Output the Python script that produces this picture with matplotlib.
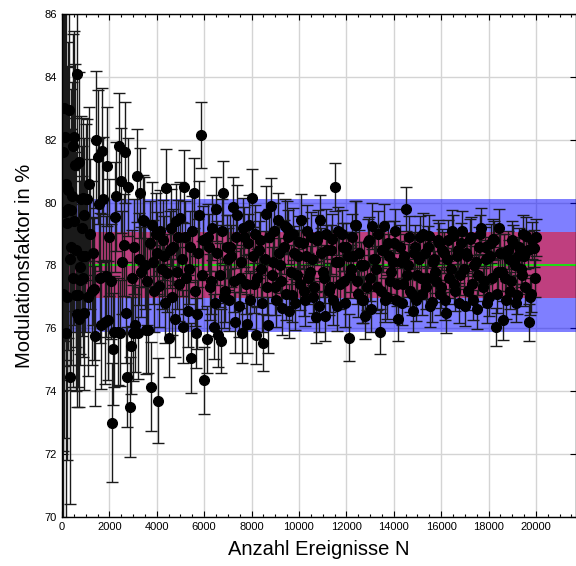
import matplotlib.pyplot as plt
from matplotlib.ticker import MultipleLocator

plt.rcParams['font.family'] = ['Liberation Sans', 'DejaVu Sans']

# number of events N
n_events = [
    25, 50, 75, 100, 125, 150, 175, 200, 225, 250,
    275, 300, 325, 350, 375, 400, 425, 450, 475, 500,
    525, 550, 575, 600, 625, 650, 675, 700, 725, 750,
    775, 800, 825, 850, 875, 900, 925, 950, 975, 1000,
    1050, 1100, 1150, 1200, 1250, 1300, 1350, 1400, 1450, 1500,
    1550, 1600, 1650, 1700, 1750, 1800, 1850, 1900, 1950, 2000,
    2050, 2100, 2150, 2200, 2250, 2300, 2350, 2400, 2450, 2500,
    2550, 2600, 2650, 2700, 2750, 2800, 2850, 2900, 2950, 3000,
    3050, 3100, 3150, 3200, 3250, 3300, 3350, 3400, 3450, 3500,
    3550, 3600, 3650, 3700, 3750, 3800, 3850, 3900, 3950, 4000,
    4050, 4100, 4150, 4200, 4250, 4300, 4350, 4400, 4450, 4500,
    4550, 4600, 4650, 4700, 4750, 4800, 4850, 4900, 4950, 5000,
    5050, 5100, 5150, 5200, 5250, 5300, 5350, 5400, 5450, 5500,
    5550, 5600, 5650, 5700, 5750, 5800, 5850, 5900, 5950, 6000,
    6100, 6200, 6300, 6400, 6500, 6600, 6700, 6800, 6900, 7000,
    7100, 7200, 7300, 7400, 7500, 7600, 7700, 7800, 7900, 8000,
    8100, 8200, 8300, 8400, 8500, 8600, 8700, 8800, 8900, 9000,
    9100, 9200, 9300, 9400, 9500, 9600, 9700, 9800, 9900, 10000,
    10100, 10200, 10300, 10400, 10500, 10600, 10700, 10800, 10900, 11000,
    11100, 11200, 11300, 11400, 11500, 11600, 11700, 11800, 11900, 12000,
    12100, 12200, 12300, 12400, 12500, 12600, 12700, 12800, 12900, 13000,
    13100, 13200, 13300, 13400, 13500, 13600, 13700, 13800, 13900, 14000,
    14100, 14200, 14300, 14400, 14500, 14600, 14700, 14800, 14900, 15000,
    15100, 15200, 15300, 15400, 15500, 15600, 15700, 15800, 15900, 16000,
    16100, 16200, 16300, 16400, 16500, 16600, 16700, 16800, 16900, 17000,
    17100, 17200, 17300, 17400, 17500, 17600, 17700, 17800, 17900, 18000,
    18100, 18200, 18300, 18400, 18500, 18600, 18700, 18800, 18900, 19000,
    19100, 19200, 19300, 19400, 19500, 19600, 19700, 19800, 19900, 20000,
    6150, 6250, 6350, 6450, 6550, 6650, 6750, 6850, 6950, 7050,
    7150, 7250, 7350, 7450, 7550, 7650, 7750, 7850, 7950, 8050,
    8150, 8250, 8350, 8450, 8550, 8650, 8750, 8850, 8950, 9050,
    9150, 9250, 9350, 9450, 9550, 9650, 9750, 9850, 9950, 10050,
    10150, 10250, 10350, 10450, 10550, 10650, 10750, 10850, 10950, 11050,
    11150, 11250, 11350, 11450, 11550, 11650, 11750, 11850, 11950, 12050,
    12150, 12250, 12350, 12450, 12550, 12650, 12750, 12850, 12950, 13050,
    13150, 13250, 13350, 13450, 13550, 13650, 13750, 13850, 13950, 14050,
    14150, 14250, 14350, 14450, 14550, 14650, 14750, 14850, 14950, 15050,
    15150, 15250, 15350, 15450, 15550, 15650, 15750, 15850, 15950, 16050,
    16150, 16250, 16350, 16450, 16550, 16650, 16750, 16850, 16950, 17050,
    17150, 17250, 17350, 17450, 17550, 17650, 17750, 17850, 17950, 18050,
    18150, 18250, 18350, 18450, 18550, 18650, 18750, 18850, 18950, 19050,
    19150, 19250, 19350, 19450, 19550, 19650, 19750, 19850, 19950,
]

# modulation factor in %
modulation = [
    77.10, 81.60, 83.00, 79.70, 82.10, 75.85, 80.60, 77.00, 79.35, 80.40,
    79.80, 82.95, 78.20, 74.45, 79.75, 78.60, 80.20, 81.80, 77.60, 82.10,
    79.40, 81.20, 78.50, 77.05, 84.10, 76.45, 77.05, 81.30, 76.30, 77.95,
    77.55, 80.10, 79.20, 78.30, 80.15, 77.60, 79.60, 76.50, 78.30, 80.10,
    80.10, 77.00, 80.60, 79.00, 77.20, 78.40, 77.25, 75.75, 82.00, 81.45,
    79.95, 77.60, 76.10, 81.65, 80.10, 76.20, 77.65, 81.15, 76.25, 78.90,
    77.50, 73.00, 75.35, 75.90, 79.55, 80.20, 75.90, 81.80, 75.85, 80.70,
    78.10, 78.65, 81.60, 76.50, 74.45, 80.50, 73.50, 75.45, 77.60, 75.85,
    78.60, 76.10, 80.85, 75.85, 78.20, 80.30, 77.80, 79.45, 79.40, 78.00,
    75.95, 77.50, 75.95, 78.70, 74.15, 79.30, 78.10, 77.20, 79.00, 78.40,
    73.70, 77.35, 79.10, 77.90, 78.80, 78.30, 76.80, 80.45, 77.75, 75.70,
    78.50, 79.20, 77.00, 78.60, 76.30, 79.40, 77.80, 78.90, 77.40, 79.50,
    78.20, 76.05, 80.50, 78.90, 77.60, 76.55, 77.90, 78.60, 75.05, 79.10,
    80.30, 77.20, 75.85, 76.45, 78.40, 79.60, 82.15, 77.70, 78.80, 74.35,
    75.65, 78.60, 77.50, 76.05, 79.80, 75.80, 75.60, 80.30, 77.20, 78.20,
    78.60, 79.85, 76.20, 79.60, 77.60, 75.85, 78.90, 76.15, 79.30, 80.15,
    77.40, 75.80, 78.50, 77.90, 75.55, 79.65, 76.10, 79.90, 78.10, 77.30,
    79.45, 78.00, 76.65, 79.25, 79.20, 76.55, 77.05, 78.40, 77.70, 78.75,
    79.45, 77.20, 78.30, 77.60, 78.90, 77.00, 76.35, 78.95, 79.45, 77.80,
    76.40, 78.50, 77.30, 78.85, 80.50, 76.70, 78.10, 79.00, 77.50, 78.60,
    75.70, 77.90, 78.30, 79.30, 77.10, 78.00, 76.90, 76.40, 78.75, 77.60,
    79.25, 78.20, 77.30, 75.90, 78.50, 79.25, 77.00, 78.30, 77.80, 78.70,
    76.90, 76.30, 78.10, 77.40, 79.80, 78.00, 77.20, 76.55, 78.60, 77.70,
    78.90, 77.10, 78.40, 77.60, 78.95, 76.85, 78.20, 77.50, 78.70, 77.30,
    78.40, 76.50, 78.80, 77.90, 78.95, 77.20, 78.50, 77.70, 79.10, 76.70,
    78.30, 78.85, 77.40, 78.00, 76.60, 78.60, 79.20, 77.50, 78.20, 77.00,
    78.70, 78.85, 76.05, 77.80, 78.40, 76.25, 77.60, 78.50, 77.20, 78.80,
    78.00, 77.05, 78.60, 77.70, 78.30, 78.95, 76.20, 77.10, 78.55, 78.90,
    78.90, 77.30, 79.20, 76.80, 78.40, 77.70, 79.10, 77.00, 78.60, 76.90,
    78.30, 77.50, 78.90, 76.70, 78.10, 79.20, 77.40, 78.70, 76.90, 78.30,
    79.00, 77.60, 78.80, 76.80, 78.20, 77.30, 78.90, 77.70, 79.10, 76.90,
    78.40, 77.50, 78.60, 77.10, 78.90, 77.80, 79.00, 76.80, 78.30, 77.40,
    78.70, 76.90, 79.10, 77.80, 78.20, 77.30, 78.80, 76.70, 78.40, 77.60,
    79.00, 77.20, 78.50, 76.90, 78.10, 79.10, 77.40, 78.60, 76.80, 78.30,
    77.70, 78.90, 79.30, 77.50, 78.40, 76.90, 78.00, 77.30, 78.80, 76.60,
    78.20, 77.90, 79.00, 77.20, 78.50, 76.90, 78.70, 77.50, 78.10, 79.10,
    77.40, 78.60, 76.80, 78.30, 77.70, 78.90, 77.10, 78.40, 76.90, 78.20,
    77.60, 79.00, 77.30, 78.60, 76.70, 78.10, 77.80, 78.80, 77.10, 78.50,
    76.90, 78.20, 77.60, 79.10, 77.40, 78.30, 76.80, 78.70, 77.90, 78.40,
    77.20, 78.90, 76.90, 78.10, 77.70, 79.00, 77.30, 78.60, 76.80, 78.30,
    77.60, 78.80, 77.10, 79.20, 77.80, 78.40, 76.90, 78.20, 77.50, 78.70,
    76.80, 78.30, 77.90, 79.00, 77.30, 78.50, 77.00, 78.80, 77.60,
]

# statistical error of the modulation factor in %
modulation_err = [
    12.0, 9.5, 8.2, 7.2, 6.5, 6.0, 5.6, 5.2, 5.0, 4.7,
    4.5, 4.3, 4.15, 4.05, 3.85, 3.75, 3.65, 3.55, 3.45, 3.35,
    3.3, 3.2, 3.1, 3.05, 3.0, 2.95, 2.9, 2.85, 2.8, 2.75,
    2.7, 2.65, 2.6, 2.55, 2.55, 2.5, 2.45, 2.45, 2.4, 2.4,
    2.56, 2.50, 2.45, 2.40, 2.35, 2.30, 2.26, 2.22, 2.18, 2.14,
    2.11, 2.08, 2.04, 2.01, 1.98, 1.96, 1.93, 1.90, 1.88, 1.86,
    1.83, 1.90, 1.79, 1.77, 1.75, 1.73, 1.71, 1.69, 1.68, 1.66,
    1.64, 1.63, 1.61, 1.60, 1.58, 1.57, 1.60, 1.54, 1.53, 1.52,
    1.50, 1.49, 1.48, 1.47, 1.46, 1.44, 1.43, 1.42, 1.41, 1.40,
    1.39, 1.38, 1.37, 1.36, 1.42, 1.35, 1.34, 1.33, 1.32, 1.31,
    1.35, 1.30, 1.29, 1.28, 1.27, 1.27, 1.26, 1.25, 1.24, 1.24,
    1.23, 1.22, 1.22, 1.21, 1.20, 1.20, 1.19, 1.19, 1.18, 1.17,
    1.17, 1.16, 1.16, 1.15, 1.15, 1.14, 1.13, 1.13, 1.12, 1.12,
    1.11, 1.11, 1.10, 1.10, 1.09, 1.09, 1.05, 1.08, 1.08, 1.07,
    1.06, 1.05, 1.05, 1.04, 1.03, 1.02, 1.01, 1.01, 1.00, 0.99,
    0.99, 0.98, 0.97, 0.96, 0.96, 0.95, 0.95, 0.94, 0.93, 0.93,
    0.92, 0.92, 0.91, 0.91, 0.90, 0.89, 0.89, 0.88, 0.88, 0.87,
    0.87, 0.87, 0.86, 0.86, 0.85, 0.85, 0.84, 0.84, 0.83, 0.83,
    0.83, 0.82, 0.82, 0.81, 0.81, 0.81, 0.80, 0.80, 0.80, 0.79,
    0.79, 0.78, 0.78, 0.78, 0.77, 0.77, 0.77, 0.76, 0.76, 0.76,
    0.75, 0.75, 0.75, 0.75, 0.74, 0.74, 0.74, 0.73, 0.73, 0.73,
    0.73, 0.72, 0.72, 0.72, 0.71, 0.71, 0.71, 0.71, 0.70, 0.70,
    0.70, 0.70, 0.69, 0.69, 0.69, 0.69, 0.68, 0.68, 0.68, 0.68,
    0.68, 0.67, 0.67, 0.67, 0.67, 0.66, 0.66, 0.66, 0.66, 0.66,
    0.65, 0.65, 0.65, 0.65, 0.65, 0.64, 0.64, 0.64, 0.64, 0.64,
    0.63, 0.63, 0.63, 0.63, 0.63, 0.63, 0.62, 0.62, 0.62, 0.62,
    0.62, 0.62, 0.61, 0.61, 0.61, 0.61, 0.61, 0.61, 0.60, 0.60,
    0.60, 0.60, 0.60, 0.60, 0.59, 0.59, 0.59, 0.59, 0.59, 0.59,
    1.06, 1.05, 1.04, 1.03, 1.02, 1.02, 1.01, 1.00, 0.99, 0.99,
    0.98, 0.97, 0.97, 0.96, 0.95, 0.95, 0.94, 0.94, 0.93, 0.92,
    0.92, 0.91, 0.91, 0.90, 0.90, 0.89, 0.89, 0.88, 0.88, 0.87,
    0.87, 0.86, 0.86, 0.85, 0.85, 0.85, 0.84, 0.84, 0.83, 0.83,
    0.82, 0.82, 0.82, 0.81, 0.81, 0.80, 0.80, 0.80, 0.79, 0.79,
    0.79, 0.78, 0.78, 0.78, 0.77, 0.77, 0.77, 0.76, 0.76, 0.76,
    0.75, 0.75, 0.75, 0.74, 0.74, 0.74, 0.74, 0.73, 0.73, 0.73,
    0.72, 0.72, 0.72, 0.72, 0.71, 0.71, 0.71, 0.70, 0.70, 0.70,
    0.70, 0.69, 0.69, 0.69, 0.69, 0.68, 0.68, 0.68, 0.68, 0.67,
    0.67, 0.67, 0.67, 0.67, 0.66, 0.66, 0.66, 0.66, 0.66, 0.65,
    0.65, 0.65, 0.65, 0.65, 0.64, 0.64, 0.64, 0.64, 0.64, 0.63,
    0.63, 0.63, 0.63, 0.63, 0.63, 0.62, 0.62, 0.62, 0.62, 0.62,
    0.62, 0.61, 0.61, 0.61, 0.61, 0.61, 0.61, 0.60, 0.60, 0.60,
    0.60, 0.60, 0.60, 0.59, 0.59, 0.59, 0.59, 0.59, 0.59,
]

# expected value and bands
mod_mean = 78.0
band_outer = (75.9, 80.1)
band_inner = (76.95, 79.05)

fig = plt.figure(figsize=(5.76, 5.66), dpi=100)
ax = fig.add_axes([0.1076, 0.0866, 0.8924, 0.8887])

ax.axhspan(band_outer[0], band_outer[1], color=(0, 0, 1), alpha=0.5, lw=0, zorder=1)
ax.axhspan(band_inner[0], band_inner[1], color=(1, 0, 0), alpha=0.5, lw=0, zorder=1.1)
ax.axhline(mod_mean, color=(0, 1, 0), lw=1.2, zorder=1.2)

ax.errorbar(n_events, modulation, yerr=modulation_err, fmt='o', color='black',
            ecolor='0.1', elinewidth=1.0, capsize=4.3, capthick=1.0,
            markersize=7, zorder=2)

ax.set_xlim(0, 21690)
ax.set_ylim(70, 86)
ax.xaxis.set_major_locator(MultipleLocator(2000))
ax.xaxis.set_minor_locator(MultipleLocator(500))
ax.yaxis.set_major_locator(MultipleLocator(2))

ax.grid(True, which='major', color='#d4d4d4', lw=1.0, zorder=0)
ax.set_axisbelow(True)
ax.tick_params(which='both', direction='in', top=True, right=True, labelsize=8)
ax.tick_params(which='major', length=4.5, width=0.8)
ax.tick_params(which='minor', length=2.2, width=0.8)
for s in ax.spines.values():
    s.set_linewidth(1.0)
    s.set_zorder(5)

ax.set_xlabel('Anzahl Ereignisse N', fontsize=14.5, labelpad=6)
ax.set_ylabel('Modulationsfaktor in %', fontsize=14.5, labelpad=8)

fig.savefig('out.png', dpi=100)
